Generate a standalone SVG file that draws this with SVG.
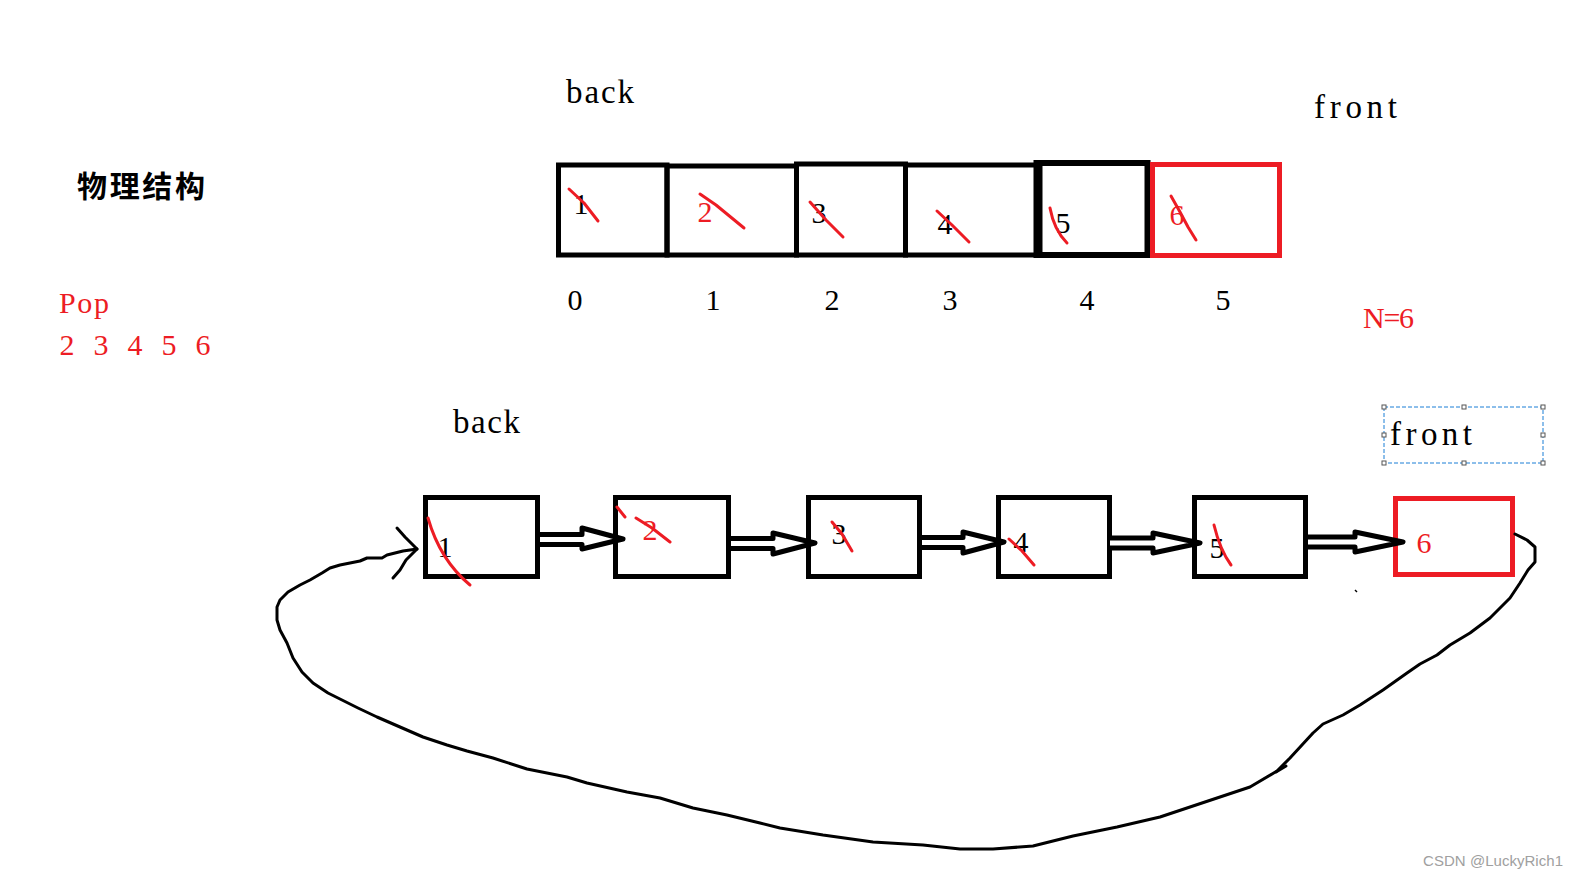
<svg xmlns="http://www.w3.org/2000/svg" width="1578" height="877" viewBox="0 0 1578 877">
<defs>
<style>
.t{font-family:"Liberation Serif","Times New Roman",serif;font-size:30px;fill:#000}
.w{font-size:33px}
.r{fill:#ed1c24}
.m{text-anchor:middle}
.cell{fill:none;stroke:#000;stroke-width:5}
.rcell{fill:none;stroke:#ed1c24;stroke-width:5}
.slash{fill:none;stroke:#ed1c24;stroke-width:3;stroke-linecap:round;stroke-linejoin:round}
.arr{fill:#fff;stroke:#000;stroke-width:5;stroke-linejoin:round;stroke-linecap:round}
.pen{fill:none;stroke:#000;stroke-width:3;stroke-linejoin:round;stroke-linecap:round}
.h{fill:#fff;stroke:#555;stroke-width:1}
</style>
</defs>
<rect width="1578" height="877" fill="#fff"/>

<!-- labels -->
<g id="labels">
<text class="t w" x="566" y="103" textLength="68">back</text>
<text class="t w" x="1314" y="118" textLength="83">front</text>
<text x="77" y="197" style="font-family:'Noto Sans CJK SC','Noto Sans CJK JP',sans-serif;font-size:30px;font-weight:bold;fill:#000" textLength="128">物理结构</text>
<text class="t r" x="59" y="313" textLength="50">Pop</text>
<g class="t r m">
<text x="67" y="355">2</text><text x="101" y="355">3</text><text x="135" y="355">4</text><text x="169" y="355">5</text><text x="203" y="355">6</text>
</g>
<text class="t r" x="1363" y="328" textLength="51">N=6</text>
<g class="t m">
<text x="575" y="310">0</text><text x="713" y="310">1</text><text x="832" y="310">2</text><text x="950" y="310">3</text><text x="1087" y="310">4</text><text x="1223" y="310">5</text>
</g>
<text class="t w" x="453" y="433" textLength="67">back</text>
<g id="front-selection">
<rect x="1384" y="407" width="159" height="56" fill="none" stroke="#1a7fd6" stroke-width="1" stroke-dasharray="4 2"/>
<rect class="h" x="1382" y="405" width="4" height="4"/><rect class="h" x="1462" y="405" width="4" height="4"/><rect class="h" x="1541" y="405" width="4" height="4"/>
<rect class="h" x="1382" y="433" width="4" height="4"/><rect class="h" x="1541" y="433" width="4" height="4"/>
<rect class="h" x="1382" y="461" width="4" height="4"/><rect class="h" x="1462" y="461" width="4" height="4"/><rect class="h" x="1541" y="461" width="4" height="4"/>
<text class="t w" x="1390" y="445" textLength="82">front</text>
</g>
<text x="1423" y="866" style="font-family:'Liberation Sans',Arial,sans-serif;font-size:15px;fill:#a0a0a0" textLength="140">CSDN @LuckyRich1</text>
</g>

<!-- top array cells -->
<g id="cell0"><rect class="cell" x="558.5" y="165" width="108.5" height="90"/><text class="t m" x="581" y="214">1</text><path class="slash" d="M569 189 L584 203 L598 221"/></g>
<g id="cell1"><rect class="cell" x="667" y="166" width="129.5" height="89"/><text class="t r m" x="705" y="222">2</text><path class="slash" d="M700 194 L716 205 L744 228"/></g>
<g id="cell2"><rect class="cell" x="796.5" y="164" width="109" height="91"/><text class="t m" x="819" y="223">3</text><path class="slash" d="M810 202 L826 220 L843 237"/></g>
<g id="cell3"><rect class="cell" x="905.5" y="165" width="132.5" height="90"/><text class="t m" x="945" y="234">4</text><path class="slash" d="M937 211 L952 225 L969 242"/></g>
<g id="cell4"><rect class="cell" x="1038" y="163" width="109.5" height="92" style="stroke-width:6"/><line x1="1038" y1="160" x2="1038" y2="258" stroke="#000" stroke-width="9"/><text class="t m" x="1063" y="233">5</text><path class="slash" d="M1050 208 Q1054 230 1067 243"/></g>
<g id="cell5"><rect class="rcell" x="1152.5" y="164.5" width="127" height="91"/><text class="t r m" x="1177" y="225">6</text><path class="slash" d="M1171 196 L1180 212 L1188 227 L1196 240"/></g>

<!-- bottom nodes -->
<g id="node1"><rect class="cell" x="425.5" y="497.5" width="112" height="79"/><text class="t m" x="445" y="557">1</text><path class="slash" d="M428 518 Q440 560 470 585"/></g>
<g id="node2"><rect class="cell" x="615.5" y="497.5" width="113" height="79"/><text class="t r m" x="650" y="540">2</text><path class="slash" d="M617 507 L625 517 M636 518 L652 528 L670 542"/></g>
<g id="node3"><rect class="cell" x="808.5" y="497.5" width="111" height="79"/><text class="t m" x="839" y="544">3</text><path class="slash" d="M832 522 L842 534 L852 551"/></g>
<g id="node4"><rect class="cell" x="998.5" y="497.5" width="111" height="79"/><text class="t m" x="1021" y="552">4</text><path class="slash" d="M1009 539 L1022 551 L1034 565"/></g>
<g id="node5"><rect class="cell" x="1194.5" y="497.5" width="111" height="79"/><text class="t m" x="1217" y="558">5</text><path class="slash" d="M1214 525 Q1220 550 1231 565"/></g>
<g id="node6"><rect class="rcell" x="1395.5" y="498.5" width="117" height="76"/><text class="t r m" x="1424" y="553">6</text></g>

<!-- connectors -->
<g id="connectors">
<path class="arr" d="M540 534.5 H582 V528 L623 539 L582 549 V544.5 H540"/>
<path class="arr" d="M731 538.5 H773 V533 L815 543 L773 554 V548.5 H731"/>
<path class="arr" d="M922 537.5 H963 V532 L1004 542 L963 553 V547.5 H922"/>
<path class="arr" d="M1110 538 H1153 V533 L1200 543 L1153 553 V548 H1110"/>
<path class="arr" d="M1308 537 H1355 V532 L1403 542 L1355 552 V547 H1308"/>
<polyline class="pen" points="1515,534 1527,540 1535,547 1535,562 1528,570 1520,583 1510,598 1490,618 1470,633 1450,645 1437,655 1420,664 1407,673 1383,690 1360,705 1343,715 1323,724 1313,733 1290,758 1277,771 1250,787 1217,798 1160,817 1117,827 1073,836 1033,846 993,849 960,849 923,845 873,842 823,835 780,828 760,823 727,815 693,808 660,798 627,792 587,783 567,777 527,769 493,758 467,751 447,745 423,737 400,727 377,717 358,708 340,699 328,693 313,683 302,672 293,658 287,643 280,630 277,620 277,607 280,600 288,592 300,585 310,580 322,573 330,568 340,565 350,563 360,561 367,558 382,558 387,555 403,551 417,549"/>
<path class="pen" d="M1276 772 L1286 766"/>
<path class="pen" d="M397 528 L405 537 L410 542 L417 549 L406 560 L400 570 L393 578"/>
<path d="M1355 590 L1357 592" stroke="#000" stroke-width="1.5"/>
</g>
</svg>
